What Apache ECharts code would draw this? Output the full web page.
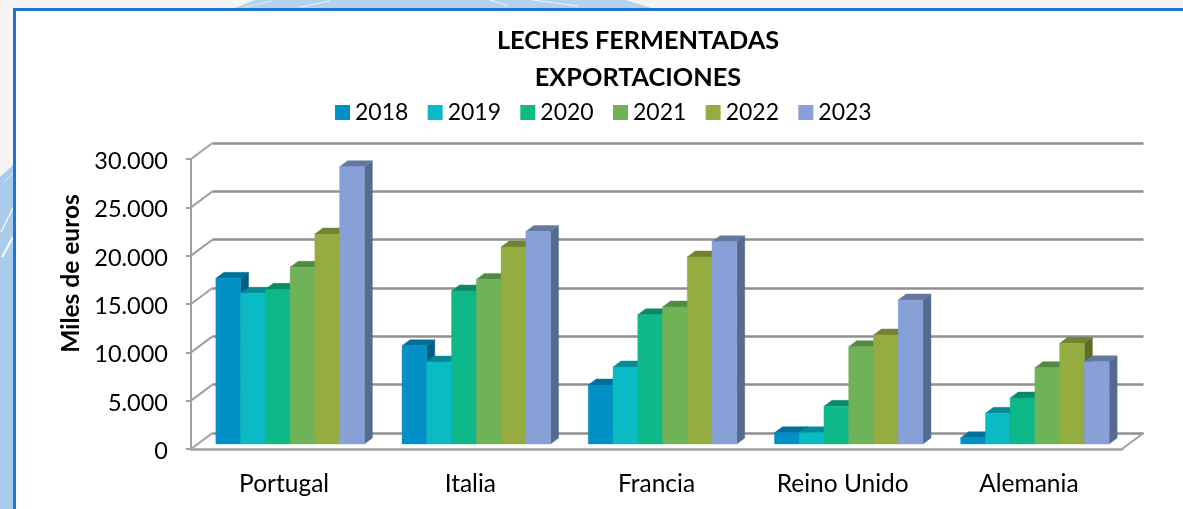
<!DOCTYPE html>
<html><head><meta charset="utf-8">
<style>html,body{margin:0;padding:0;background:#fff}#c{width:1183px;height:509px}</style>
<script src="https://cdn.jsdelivr.net/npm/echarts@6/dist/echarts.min.js"></script>
</head><body><div id="c"></div>
<script>
const categories = ['Portugal','Italia','Francia','Reino Unido','Alemania'];
const years = ['2018','2019','2020','2021','2022','2023'];
const v2018 = [17140,10170,6100,1170,650];
const v2019 = [15590,8480,7970,1170,3170];
const v2020 = [16000,15830,13380,3900,4760];
const v2021 = [18280,17030,14170,10070,7900];
const v2022 = [21720,20380,19350,11280,10410];
const v2023 = [28690,21970,20930,14900,8510];
const ticks = [0,5000,10000,15000,20000,25000,30000];
const front = ['#0090c6','#0abac5','#0eb889','#6fb258','#95ac40','#88a0d8'];
const top_ = ['#006f99','#078a92','#0a8a66','#528a40','#708430','#65799f'];
const side = ['#005f85','#06777e','#087556','#46763a','#5e6e28','#546a8e'];
const allValues = [v2018,v2019,v2020,v2021,v2022,v2023];

const BW=24.75, DX=8, DY=6, OX=6, OY=5, WX=21.5, WY=16;
const FONT='Lato, Carlito, sans-serif';
function fmt(v){return '{a|'+String(v).replace(/\B(?=(\d{3})+$)/g,'.')+'}';}

function barRenderer(si){
  return function(params,api){
    const p=api.coord([params.dataIndex,api.value(1)]);
    const base=api.coord([params.dataIndex,0]);
    const x0=p[0]+OX-3*BW+si*BW, x1=x0+BW;
    const yt=p[1]-OY, yb=base[1]-OY;
    const poly=(pts,c)=>({type:'polygon',shape:{points:pts},style:{fill:c,stroke:c,lineWidth:0.4}});
    return {type:'group',children:[
      poly([[x1,yt],[x1+DX,yt-DY],[x1+DX,yb-DY],[x1,yb]],side[si]),
      poly([[x0,yt],[x0+DX,yt-DY],[x1+DX,yt-DY],[x1,yt]],top_[si]),
      poly([[x0,yt],[x1,yt],[x1,yb],[x0,yb]],front[si])
    ]};
  };
}
function wallRenderer(params,api){
  const band=api.size([1,0])[0];
  const p=api.coord([0,api.value(0)]);
  const x=p[0]-band/2;
  return {type:'line',shape:{x1:x,y1:p[1],x2:x+WX,y2:p[1]-WY},style:{stroke:'#a0a0a0',lineWidth:2}};
}
function floorRenderer(params,api){
  const band=api.size([1,0])[0];
  const p=api.coord([categories.length-1,api.value(0)]);
  const x=p[0]+band/2;
  return {type:'line',shape:{x1:x,y1:p[1],x2:x+WX,y2:p[1]-WY},style:{stroke:'#a0a0a0',lineWidth:2}};
}

const chart=echarts.init(document.getElementById('c'),null,{renderer:'canvas'});
chart.setOption({
  animation:false,
  backgroundColor:'#f5f5f5',
  graphic:[
    {type:'polygon',z:-5,silent:true,shape:{points:[[0,177],[13,165],[13,509],[0,509]]},style:{fill:'#aacbea'}},
    {type:'polygon',z:-5,silent:true,shape:{points:[[232,9],[255,0],[625,0],[655,9]]},style:{fill:'#b5d1ec'}},
    {type:'line',z:-4,silent:true,shape:{x1:4,y1:182,x2:13,y2:173},style:{stroke:'#d8e7f6',lineWidth:1}},
    {type:'line',z:-4,silent:true,shape:{x1:1,y1:232,x2:13,y2:208},style:{stroke:'#eef5fb',lineWidth:1.5}},
    {type:'line',z:-4,silent:true,shape:{x1:2,y1:257,x2:13,y2:237},style:{stroke:'#f4f8fc',lineWidth:2.5}},
    {type:'line',z:-4,silent:true,shape:{x1:245,y1:7,x2:272,y2:1},style:{stroke:'#e4eff9',lineWidth:1}},
    {type:'line',z:-4,silent:true,shape:{x1:300,y1:7,x2:330,y2:1},style:{stroke:'#eef5fb',lineWidth:1}},
    {type:'line',z:-4,silent:true,shape:{x1:508,y1:6,x2:490,y2:0},style:{stroke:'#eef5fb',lineWidth:1.2}},
    {type:'line',z:-4,silent:true,shape:{x1:578,y1:6,x2:532,y2:0},style:{stroke:'#eef5fb',lineWidth:1.2}},
    {type:'rect',z:-3,silent:true,shape:{x:15,y:10,width:1168,height:499},style:{fill:'#ffffff'}},
    {type:'rect',z:-2,silent:true,shape:{x:13,y:8,width:1170,height:3},style:{fill:'#1e77ce'}},
    {type:'rect',z:-2,silent:true,shape:{x:13,y:8,width:3,height:501},style:{fill:'#1e77ce'}}
  ],
  title:{text:'LECHES FERMENTADAS\nEXPORTACIONES',left:633,top:17,textAlign:'center',
    textStyle:{fontFamily:FONT,fontWeight:'bold',fontSize:25.3,lineHeight:37,color:'#000'}},
  legend:{data:years,left:335,top:101,padding:0,itemWidth:15,itemHeight:15,itemGap:19.3,icon:'rect',
    textStyle:{fontFamily:FONT,fontSize:23,color:'#000'},selectedMode:false},
  grid:[
    {left:191,top:159,width:931,height:290},
    {left:212.5,top:143,width:931,height:290}
  ],
  xAxis:[
    {gridIndex:0,type:'category',data:categories,
      axisTick:{show:false},axisLine:{lineStyle:{color:'#a0a0a0',width:2.5}},
      axisLabel:{fontFamily:FONT,fontSize:24.5,color:'#000',margin:23}},
    {gridIndex:1,type:'category',data:categories,show:false}
  ],
  yAxis:[
    {gridIndex:0,type:'value',min:0,max:30000,interval:5000,
      name:'Miles de euros',nameLocation:'middle',nameGap:107,nameRotate:90,
      nameTextStyle:{fontFamily:FONT,fontWeight:'bold',fontSize:24.5,color:'#000',padding:[0,0,0,61]},
      axisLine:{show:true,lineStyle:{color:'#a0a0a0',width:2}},
      axisTick:{show:true,length:5,lineStyle:{color:'#a0a0a0',width:2}},
      splitLine:{show:false},
      axisLabel:{fontFamily:FONT,fontSize:23.5,color:'#000',margin:23,formatter:fmt,
        rich:{a:{fontFamily:FONT,fontSize:23.5,color:'#000',padding:[5,0,0,0]}}}},
    {gridIndex:1,type:'value',min:0,max:30000,interval:5000,
      axisLine:{show:false},axisTick:{show:false},axisLabel:{show:false},
      splitLine:{show:true,lineStyle:{color:'#8f8f8f',width:2.5}}}
  ],
  series:[
    {type:'custom',name:'walls',xAxisIndex:0,yAxisIndex:0,silent:true,z:1,data:ticks.map(v=>[v]),encode:{y:0},renderItem:wallRenderer},
    {type:'custom',name:'floor',xAxisIndex:0,yAxisIndex:0,silent:true,z:1,data:[[0]],encode:{y:0},renderItem:floorRenderer},
    ...years.map((y,si)=>({
      type:'custom',name:y,xAxisIndex:0,yAxisIndex:0,z:3+si,
      itemStyle:{color:front[si]},
      data:categories.map((c,i)=>[c,allValues[si][i]]),
      encode:{x:0,y:1},
      renderItem:barRenderer(si)
    }))
  ]
});
</script></body></html>
